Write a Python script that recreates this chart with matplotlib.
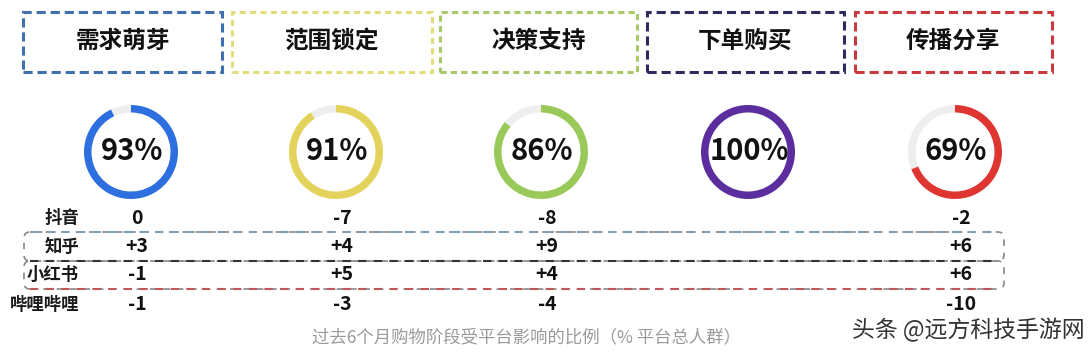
import matplotlib.pyplot as plt
from matplotlib.patches import Wedge, Rectangle, FancyBboxPatch

W, H = 1092, 352

# stages, share influenced by platforms (%)
stages = ["需求萌芽", "范围锁定", "决策支持", "下单购买", "传播分享"]
shares = [93, 91, 86, 100, 69]
stage_colors = ["#2d6fdf", "#e3d35c", "#99c958", "#5b2d9e", "#df3530"]
box_colors = ["#3f6fae", "#e2dc7a", "#a9c86a", "#2e2b5e", "#c93a3e"]

platforms = ["抖音", "知乎", "小红书", "哔哩哔哩"]
# change per stage, None where there is no value
douyin = [0, -7, -8, None, -2]
zhihu = [3, 4, 9, None, 6]
xiaohongshu = [-1, 5, 4, None, 6]
bilibili = [-1, -3, -4, None, -10]

caption = "过去6个月购物阶段受平台影响的比例（% 平台总人群）"
watermark = "头条 @远方科技手游网"

FONT = ["Noto Sans CJK SC", "DejaVu Sans"]
plt.rcParams["font.family"] = FONT


def Y(v):
    return H - v


def fmt(v):
    if v == 0:
        return "0"
    return f"{v:+d}"


def main():
    fig = plt.figure(figsize=(W / 100, H / 100), dpi=100)
    ax = fig.add_axes([0, 0, 1, 1])
    ax.set_xlim(0, W)
    ax.set_ylim(0, H)
    ax.axis("off")

    # header boxes
    box_x = [(23, 222), (232, 432), (440, 637), (647, 844), (855, 1052)]
    box_styles = [(0, (3, 1.6)), (0, (2, 1.4)), (0, (2, 1.4)), (0, (3, 1.6)), (0, (3, 1.6))]
    for (x0, x1), name, c, ls in zip(box_x, stages, box_colors, box_styles):
        ax.add_patch(Rectangle((x0, Y(72)), x1 - x0, 60, fill=False,
                               edgecolor=c, lw=2.2, linestyle=ls))
        ax.text((x0 + x1) / 2, Y(41), name, ha="center", va="center",
                fontsize=17, fontweight="bold", color="#111111")

    # rings
    centers = [131, 336, 541, 748, 955]
    r, w = 47, 7.5
    cy = Y(152)
    for cx, p, c in zip(centers, shares, stage_colors):
        span = 360 * p / 100
        if p < 100:
            ax.add_patch(Wedge((cx, cy), r, 90, 450 - span, width=w,
                               facecolor="#eeeeee", edgecolor="none"))
        ax.add_patch(Wedge((cx, cy), r, 90 - span, 90, width=w,
                           facecolor=c, edgecolor="none"))
        ax.text(cx + 1, cy + 1, f"{p}%", ha="center", va="center",
                fontsize=21, fontweight="bold", color="#111111")

    # platform table
    rows = [douyin, zhihu, xiaohongshu, bilibili]
    row_y = [218, 247, 275, 305]
    for name, vals, yy in zip(platforms, rows, row_y):
        ax.text(79, Y(yy), name, ha="right", va="center", fontsize=12.5,
                fontweight="bold", color="#1a1a1a")
        for cx, v in zip(centers, vals):
            if v is None:
                continue
            ax.text(cx + 6, Y(yy), fmt(v), ha="center", va="center",
                    fontsize=14, fontweight="bold", color="#111111")

    # dashed brackets around zhihu / xiaohongshu rows
    for y0, y1 in [(232, 261), (261, 289)]:
        ax.add_patch(FancyBboxPatch((24, Y(y1)), 980, y1 - y0,
                                    boxstyle="round,pad=0,rounding_size=6",
                                    fill=False, edgecolor="#888888", lw=1.2,
                                    linestyle=(0, (4, 4))))
    line_colors = ["#7f9fb6", "#333333", "#c0585a"]
    for yy, c in zip([232, 261, 289], line_colors):
        ax.plot([30, 998], [Y(yy), Y(yy)], color=c, lw=1.5,
                linestyle=(0, (4, 3.5)))

    ax.text(527, Y(337), caption, ha="center", va="center", fontsize=12.5,
            color="#9a9a9a")
    ax.text(852, Y(330), watermark, ha="left", va="center", fontsize=16.5,
            color="#333333")

    fig.savefig("out.png", dpi=100, facecolor="white")
    plt.close(fig)


if __name__ == "__main__":
    main()
